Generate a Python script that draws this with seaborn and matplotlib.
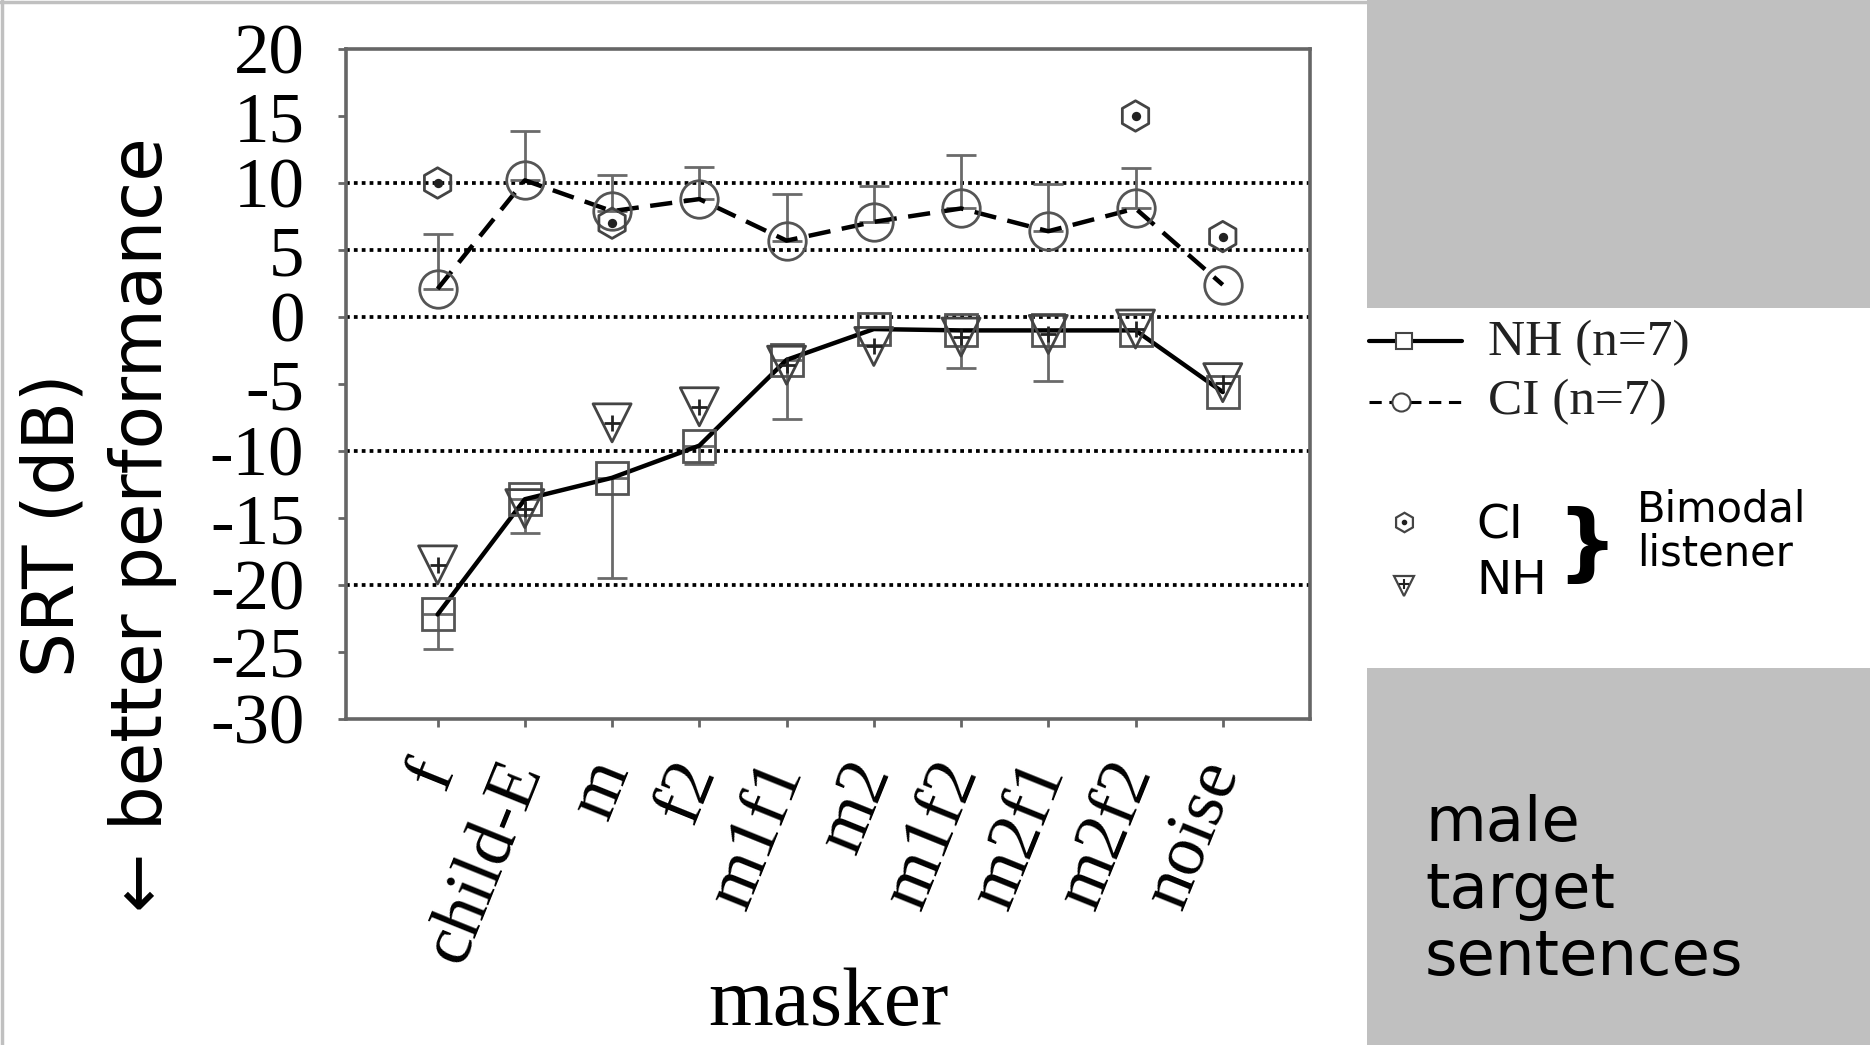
import numpy as np
import pandas as pd
import matplotlib.pyplot as plt
import seaborn as sns

# values (SRT in dB)
maskers = ['f', 'child-E', 'm', 'f2', 'm1f1', 'm2', 'm1f2', 'm2f1', 'm2f2', 'noise']
nh_srt = [-22.2, -13.6, -12.0, -9.6, -3.2, -0.9, -1.0, -1.0, -1.0, -5.6]
nh_err_low = [2.6, 2.5, 7.5, 1.4, 4.4, 0.0, 2.8, 3.8, 0.0, 0.0]
ci_srt = [2.1, 10.2, 7.9, 8.8, 5.7, 7.1, 8.1, 6.4, 8.1, 2.4]
ci_err_up = [4.1, 3.7, 2.7, 2.4, 3.5, 2.7, 4.0, 3.5, 3.0, 0.0]
bimodal_ci = [10.0, np.nan, 7.0, np.nan, np.nan, np.nan, np.nan, np.nan, 15.0, 6.0]
bimodal_nh = [-18.5, -14.3, -7.9, -6.7, -3.6, -2.2, -1.5, -1.3, -0.9, -4.9]
ref_lines = [10, 5, 0, -10, -20]
yticks = [20, 15, 10, 5, 0, -5, -10, -15, -20, -25, -30]

sns.set_theme(style='white')
plt.rcParams['font.family'] = ['Liberation Serif', 'DejaVu Sans']
plt.rcParams['text.color'] = 'black'
plt.rcParams['axes.labelcolor'] = 'black'
plt.rcParams['xtick.color'] = 'black'
plt.rcParams['ytick.color'] = 'black'

W, H = 1870, 1045
fig = plt.figure(figsize=(W / 100, H / 100), dpi=100)

# background panel in pixel coords
pax = fig.add_axes([0, 0, 1, 1])
pax.set_xlim(0, W)
pax.set_ylim(H, 0)
pax.axis('off')
gray = '#c0c0c0'
pax.add_patch(plt.Rectangle((1367, 0), W - 1367, 308, color=gray, lw=0))
pax.add_patch(plt.Rectangle((1367, 668), W - 1367, H - 668, color=gray, lw=0))
pax.plot([0, 1367], [1.5, 1.5], color=gray, lw=2.5)
pax.plot([1.5, 1.5], [0, H], color=gray, lw=2.5)

# legend
pax.plot([1369, 1462], [341, 341], color='black', lw=3)
pax.plot([1404], [341], marker='s', ms=12, mfc='white', mec='#444', mew=1.5)
pax.plot([1369, 1462], [402, 402], color='black', lw=2.2, ls=(0, (4, 2.5)))
pax.plot([1401], [402], marker='o', ms=13, mfc='white', mec='#444', mew=1.5)
pax.text(1488, 343, 'NH (n=7)', fontsize=37, va='center', ha='left', color='#222')
pax.text(1488, 402, 'CI (n=7)', fontsize=37, va='center', ha='left', color='#222')
pax.plot([1404], [522], marker='h', ms=14, mfc='none', mec='#444', mew=1.6)
pax.plot([1404], [522], marker='.', ms=6, color='#222')
pax.plot([1404], [586], marker='v', ms=15, mfc='none', mec='#444', mew=1.6)
pax.plot([1404], [584], marker='+', ms=7, color='#222', mew=1.5)
sans = ['DejaVu Sans']
pax.text(1476, 526, 'CI', fontsize=34, family=sans, va='center', ha='left')
pax.text(1476, 582, 'NH', fontsize=34, family=sans, va='center', ha='left')
pax.text(1587, 548, '}', fontsize=62, family=sans, va='center', ha='center',
         fontweight='bold')
pax.text(1637, 510, 'Bimodal', fontsize=30, family=sans, va='center', ha='left')
pax.text(1637, 553, 'listener', fontsize=30, family=sans, va='center', ha='left')
pax.text(1425, 794, 'male\ntarget\nsentences', fontsize=45, family=sans,
         va='top', ha='left', linespacing=1.15)

# main chart
ax = fig.add_axes([346 / W, 1 - 719 / H, (1310 - 346) / W, (719 - 49) / H])
ax.patch.set_alpha(0)
pos = np.arange(len(maskers))
df = pd.DataFrame({'pos': pos, 'NH': nh_srt, 'CI': ci_srt,
                   'bi_ci': bimodal_ci, 'bi_nh': bimodal_nh})

for y in ref_lines:
    ax.axhline(y, color='black', ls=(0, (1, 1.1)), lw=2.7, zorder=1)

nh_err = np.array(nh_err_low)
ci_err = np.array(ci_err_up)
m1 = nh_err > 0
ax.errorbar(pos[m1], np.array(nh_srt)[m1], yerr=[nh_err[m1], np.zeros(m1.sum())],
            fmt='none', ecolor='#6a6a6a', elinewidth=2, capsize=11, capthick=2, zorder=2)
m2 = ci_err > 0
ax.errorbar(pos[m2], np.array(ci_srt)[m2], yerr=[np.zeros(m2.sum()), ci_err[m2]],
            fmt='none', ecolor='#6a6a6a', elinewidth=2, capsize=11, capthick=2, zorder=2)

sns.lineplot(data=df, x='pos', y='NH', ax=ax, sort=False, color='black', lw=3.2,
             marker='s', ms=23, mfc='none', mec='#555', mew=2, zorder=3)
sns.lineplot(data=df, x='pos', y='CI', ax=ax, sort=False, color='black', lw=3.2,
             linestyle=(0, (5, 2.6)), marker='o', ms=27, mfc='none', mec='#555',
             mew=2, zorder=3)

sns.scatterplot(data=df, x='pos', y='bi_ci', ax=ax, marker='h', s=480,
                facecolor='none', edgecolor='#444', linewidth=2, zorder=4)
sns.scatterplot(data=df, x='pos', y='bi_ci', ax=ax, marker='o', s=45,
                color='#222', linewidth=0, zorder=4)
sns.scatterplot(data=df, x='pos', y='bi_nh', ax=ax, marker='v', s=750,
                facecolor='none', edgecolor='#444', linewidth=2, zorder=4)
sns.scatterplot(data=df, x='pos', y='bi_nh', ax=ax, marker='+', s=140,
                color='#222', linewidth=2, zorder=4)

ax.set_xlim(-1.05, 10.0)
ax.set_ylim(-30, 20)
ax.set_yticks(yticks)
ax.set_yticklabels([str(t) for t in yticks])
ax.set_xticks(pos)
ax.set_xticklabels(maskers, rotation=68, ha='right', va='center', rotation_mode='anchor')
ax.tick_params(axis='both', direction='out', length=6, width=2, color='#666',
               bottom=True, left=True)
ax.tick_params(axis='y', pad=24, labelsize=51)
ax.tick_params(axis='x', pad=26, labelsize=52)
for s in ax.spines.values():
    s.set_color('#666')
    s.set_linewidth(2.6)
ax.set_ylabel('')
ax.set_xlabel('masker', fontsize=60, va='baseline')
ax.xaxis.set_label_coords(0.5, -(1025 - 719) / (719 - 49))

fig.text(54 / W, 1 - 525 / H, 'SRT (dB)', rotation=90, ha='center', va='center',
         fontsize=51, family=sans)
fig.text(143 / W, 1 - 525 / H, '\u2190 better performance', rotation=90,
         ha='center', va='center', fontsize=51, family=sans)

fig.savefig('out.png', dpi=100)
